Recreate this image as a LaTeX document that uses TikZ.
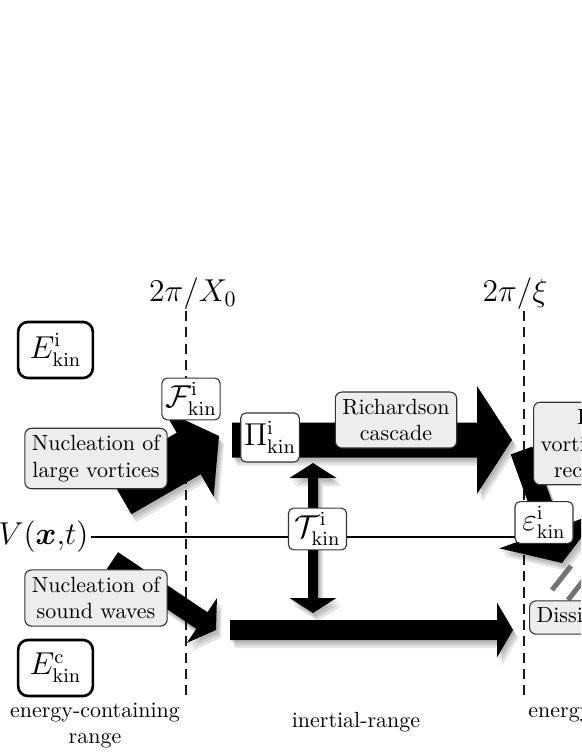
\documentclass[tikz,border=0pt]{standalone}
\usepackage{amsmath,amssymb}
\usetikzlibrary{calc}
\def\pxu{0.455pt}
% polygon of a fat arrow: #1 start, #2 tip, #3 shaft half width, #4 head length, #5 head half width (px)
\newcommand\farpath[5]{($(#1)!#3*\pxu!90:(#2)$) -- ($(fah)!#3*\pxu!90:(#2)$) -- ($(fah)!#5*\pxu!90:(#2)$) -- (#2) -- ($(fah)!#5*\pxu!-90:(#2)$) -- ($(fah)!#3*\pxu!-90:(#2)$) -- ($(#1)!#3*\pxu!-90:(#2)$) -- cycle}
\newcommand\fatarrow[5]{%
  \coordinate (fah) at ($(#2)!#4*\pxu!(#1)$);
  \foreach \sx/\sy in {2/3,3.5/5.5,5/8}{%
    \fill[black,opacity=0.1,transform canvas={shift={(\sx,\sy)}}] \farpath{#1}{#2}{#3}{#4}{#5};}
  \fill[black] \farpath{#1}{#2}{#3}{#4}{#5};}
\newcommand\symsize{\fontsize{13.5}{16}\selectfont}
\tikzset{
  sym/.style={draw=black!80, line width=0.5pt, rounded corners=2.3pt, fill=white, font=\symsize, inner sep=1.5pt, minimum width=26.4pt, minimum height=19pt},
  txt/.style={draw=black!80, line width=0.5pt, rounded corners=3pt, fill=black!7, align=center, inner sep=3.2pt},
  ebox/.style={draw=black, line width=1.2pt, rounded corners=4.5pt, fill=white, font=\symsize, minimum width=34pt, minimum height=25.5pt},
  rangeline/.style={line width=0.65pt, dash pattern=on 4.6pt off 2.8pt, black!90},
  lbl/.style={align=center, inner sep=0pt},
  graybar/.style={line width=2.3pt, black!55}
}
\begin{document}
\begin{tikzpicture}[x=0.455pt,y=-0.455pt]
\useasboundingbox (0,0) rectangle (581,752);
\clip (0,0) rectangle (581,752);

% scale labels and dashed lines
\node (kX) at (193,294) {\Large $2\pi/X_0$};
\node (kXi) at (515,294) {\Large $2\pi/\xi$};
\coordinate (xa) at (186,311); \coordinate (xb) at (186,700);
\coordinate (ya) at (524,311); \coordinate (yb) at (524,700);
\draw[rangeline] (xa) -- (xb);
\draw[rangeline] (ya) -- (yb);

% V line
\node[anchor=east, inner sep=1pt, font=\Large] (V) at (91,537) {$V(\boldsymbol{x}{,}t)$};
\coordinate (vend) at (530,537);
\draw[line width=0.7pt] (V.east) -- (vend);

% fat arrows
\coordinate (av0) at (119.4,493.5); \coordinate (av1) at (219,436);
\fatarrow{av0}{av1}{24}{35}{50}
\coordinate (as0) at (112.5,560.5); \coordinate (as1) at (216,630);
\fatarrow{as0}{as1}{10}{17}{27}
\coordinate (ar0) at (232,440); \coordinate (ar1) at (512,440);
\fatarrow{ar0}{ar1}{17.5}{35}{54}
\coordinate (ac0) at (230,630); \coordinate (ac1) at (513,630);
\fatarrow{ac0}{ac1}{10}{16}{27.5}
\coordinate (at0) at (313,538); \coordinate (at1) at (313,463); \coordinate (at2) at (313,613);
\fatarrow{at0}{at1}{5}{15}{23.5}
\fatarrow{at0}{at2}{5}{15}{23.5}
\coordinate (ad0) at (521.5,450.5); \coordinate (ad1) at (562,563);
\fatarrow{ad0}{ad1}{11.5}{35}{54}

% gray double bar
\coordinate (g1a) at (552,590); \coordinate (g1b) at (571,566);
\coordinate (g2a) at (568,600); \coordinate (g2b) at (590,572);
\draw[graybar] (g1a) -- (g1b);
\draw[graybar] (g2a) -- (g2b);

% boxes
\node[ebox] (Ei) at (55.5,350) {$E_{\mathrm{kin}}^{\mathrm{i}}$};
\node[ebox] (Ec) at (55.5,668) {$E_{\mathrm{kin}}^{\mathrm{c}}$};
\node[sym] (F) at (191,399) {$\mathcal{F}_{\mathrm{kin}}^{\mathrm{i}}$};
\node[sym, minimum height=22.3pt] (Pi) at (270,437.5) {$\Pi_{\mathrm{kin}}^{\mathrm{i}}$};
\node[sym] (T) at (317.5,529) {$\mathcal{T}_{\mathrm{kin}}^{\mathrm{i}}$};
\node[sym] (eps) at (544,522.5) {$\varepsilon_{\mathrm{kin}}^{\mathrm{i}}$};
\node[txt] (nv) at (96,458.5) {Nucleation of\\large vortices};
\node[txt] (ns) at (96,598) {Nucleation of\\sound waves};
\node[txt] (rc) at (396,420) {Richardson\\cascade};
\node[txt, anchor=west] (dv) at (533,443.5) {Decay of\\vortices through\\reconnections};
\node[txt, anchor=west] (ds) at (529,617.5) {Dissipation};

% range labels
\node[lbl] (r1) at (95,725.5) {energy-containing\\range};
\node[lbl] (r2) at (356,722) {inertial-range};
\node[lbl] (r3) at (615,725.5) {energy-dissipation\\range};
\end{tikzpicture}
\end{document}
